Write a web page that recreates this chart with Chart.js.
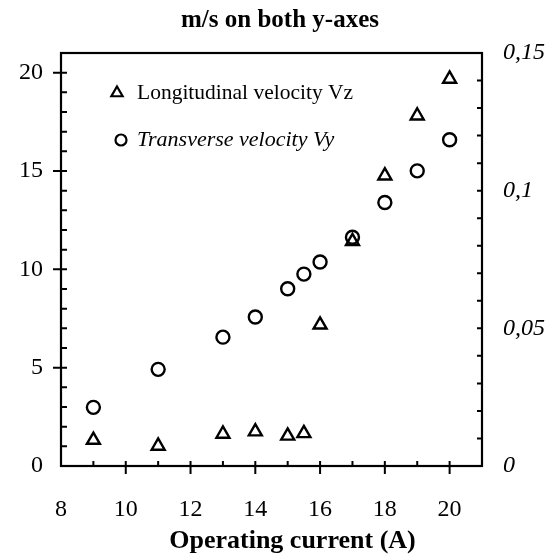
<!DOCTYPE html>
<html><head><meta charset="utf-8">
<script src="https://cdn.jsdelivr.net/npm/chart.js@4.4.1/dist/chart.umd.min.js"></script>
<style>html,body{margin:0;padding:0;background:#fff}#wrap{width:560px;height:556px}</style>
</head><body><div id="wrap"><canvas id="c" width="560" height="556"></canvas></div>
<script>
// ---- data ----
const currents = [9, 11, 13, 14, 15, 15.5, 16, 17, 18, 19, 20];          // A
const vzValues = [1.32, 1.02, 1.63, 1.75, 1.53, 1.66, 7.18, 11.42, 14.76, 17.81, 19.68]; // m/s, left axis
const vyValues = [0.0213, 0.0351, 0.0468, 0.0541, 0.0644, 0.0697, 0.0741, 0.0831, 0.0957, 0.1072, 0.1185]; // m/s, right axis
const xTickValues = [8, 10, 12, 14, 16, 18, 20];
const leftTickValues = [0, 5, 10, 15, 20];
const rightTickValues = [0, 0.05, 0.1, 0.15];
const rightTickLabels = ['0', '0,05', '0,1', '0,15'];
const seriesNames = ['Longitudinal velocity Vz', 'Transverse velocity Vy'];
const chartTitle = 'm/s on both y-axes';
const xAxisTitle = 'Operating current (A)';

const SERIF = '"Liberation Serif", "Times New Roman", serif';

const framePlugin = {
  id: 'frameTicks',
  afterDraw(chart) {
    const {ctx, chartArea: a, scales} = chart;
    const x = scales.x, y = scales.y, y2 = scales.y2;
    ctx.save();
    ctx.strokeStyle = '#000';
    ctx.lineWidth = 2.2;
    ctx.strokeRect(a.left, a.top, a.right - a.left, a.bottom - a.top);
    ctx.lineWidth = 2;
    ctx.beginPath();
    // x axis ticks
    for (let v = x.min + 1; v < x.max; v++) {
      const px = x.getPixelForValue(v);
      if (xTickValues.includes(v)) { ctx.moveTo(px, a.bottom - 5); ctx.lineTo(px, a.bottom + 8); }
      else { ctx.moveTo(px, a.bottom - 5); ctx.lineTo(px, a.bottom); }
    }
    // left axis ticks
    for (let v = y.min + 1; v < y.max; v++) {
      const py = y.getPixelForValue(v);
      if (leftTickValues.includes(v)) { ctx.moveTo(a.left - 8, py); ctx.lineTo(a.left + 6, py); }
      else { ctx.moveTo(a.left, py); ctx.lineTo(a.left + 6, py); }
    }
    // right axis ticks
    for (let k = 1; k < 15; k++) {
      const py = y2.getPixelForValue(k / 100);
      ctx.moveTo(a.right - 5, py); ctx.lineTo(a.right, py);
    }
    ctx.stroke();

    // legend inside plot
    const ds = chart.data.datasets;
    ctx.lineWidth = 2.2;
    ctx.fillStyle = '#000';
    ctx.textBaseline = 'middle';
    ctx.textAlign = 'left';
    const lx = a.left + 56, ly1 = a.top + 40, ly2 = a.top + 87;
    const r = 6.5;
    ctx.beginPath();
    ctx.moveTo(lx, ly1 - r);
    ctx.lineTo(lx + r * 0.866, ly1 + r * 0.5);
    ctx.lineTo(lx - r * 0.866, ly1 + r * 0.5);
    ctx.closePath();
    ctx.stroke();
    ctx.font = '21.5px ' + SERIF;
    ctx.fillText(ds[0].label, lx + 20, ly1);
    ctx.beginPath();
    ctx.arc(lx + 4, ly2, 5.5, 0, Math.PI * 2);
    ctx.stroke();
    ctx.font = 'italic 22px ' + SERIF;
    ctx.fillText(ds[1].label, lx + 20, ly2);

    // x axis title
    ctx.font = 'bold 26px ' + SERIF;
    ctx.textAlign = 'center';
    ctx.textBaseline = 'alphabetic';
    ctx.fillText(xAxisTitle, (a.left + a.right) / 2 + 21, 548);
    ctx.restore();
  }
};

const tickFont = {family: SERIF, size: 24};

new Chart(document.getElementById('c'), {
  type: 'scatter',
  data: {
    datasets: [
      {
        label: seriesNames[0],
        data: currents.map((c, i) => ({x: c, y: vzValues[i]})),
        yAxisID: 'y',
        pointStyle: 'triangle',
        pointRadius: 7.5,
        pointBorderWidth: 2.4,
        borderColor: '#000',
        backgroundColor: 'rgba(0,0,0,0)',
        pointHoverRadius: 7.5
      },
      {
        label: seriesNames[1],
        data: currents.map((c, i) => ({x: c, y: vyValues[i]})),
        yAxisID: 'y2',
        pointStyle: 'circle',
        pointRadius: 6.5,
        pointBorderWidth: 2.4,
        borderColor: '#000',
        backgroundColor: 'rgba(0,0,0,0)',
        pointHoverRadius: 6.5
      }
    ]
  },
  options: {
    responsive: false,
    animation: false,
    devicePixelRatio: 1,
    layout: {padding: 0},
    plugins: {
      legend: {display: false},
      tooltip: {enabled: false},
      title: {
        display: true,
        text: chartTitle,
        color: '#000',
        font: {family: SERIF, size: 25, weight: 'bold'},
        padding: {top: 6, bottom: 53 - 6 - 30}
      }
    },
    scales: {
      x: {
        type: 'linear', position: 'bottom', min: 8, max: 21,
        grid: {display: false, drawTicks: false},
        border: {display: false},
        ticks: {color: '#000', font: tickFont, padding: 29, maxRotation: 0},
        afterBuildTicks: s => { s.ticks = xTickValues.map(v => ({value: v})); },
        afterFit: s => { s.height = 90; }
      },
      y: {
        type: 'linear', position: 'left', min: 0, max: 21,
        grid: {display: false, drawTicks: false},
        border: {display: false},
        ticks: {color: '#000', font: tickFont, padding: 18},
        afterBuildTicks: s => { s.ticks = leftTickValues.map(v => ({value: v})); },
        afterFit: s => { s.width = 61; }
      },
      y2: {
        type: 'linear', position: 'right', min: 0, max: 0.15,
        grid: {display: false, drawTicks: false},
        border: {display: false},
        ticks: {
          color: '#000', font: {family: SERIF, size: 24, style: 'italic'}, padding: 21,
          callback: v => { const i = rightTickValues.findIndex(t => Math.abs(t - v) < 1e-9); return i >= 0 ? rightTickLabels[i] : ''; }
        },
        afterBuildTicks: s => { s.ticks = rightTickValues.map(v => ({value: v})); },
        afterFit: s => { s.width = 78; }
      }
    }
  },
  plugins: [framePlugin]
});
</script>
</body></html>
